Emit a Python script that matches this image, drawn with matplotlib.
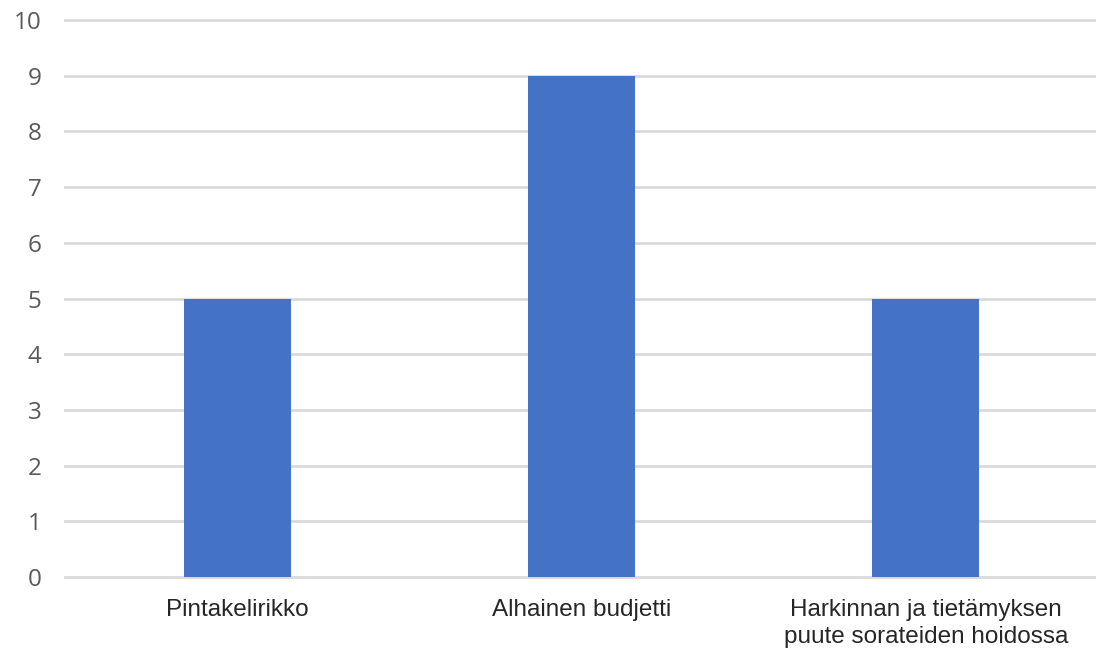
import matplotlib
matplotlib.use("Agg")
import matplotlib.pyplot as plt

categories = ["Pintakelirikko", "Alhainen budjetti", "Harkinnan ja tietämyksen\npuute sorateiden hoidossa"]
values = [5, 9, 5]
yticks = list(range(0, 11))

fig = plt.figure(figsize=(10.96, 6.5), dpi=100)
ax = fig.add_axes([65/1096, 1-577/650, (1098-65)/1096, (577-20)/650])

x = range(len(categories))
ax.bar(x, values, width=0.31, color="#4472C4", zorder=3)

ax.set_xlim(-0.5, len(categories)-0.5)
ax.set_ylim(0, 10)
ax.set_yticks(yticks)
ax.set_yticklabels([str(t) for t in yticks], fontfamily="Open Sans", fontsize=17.5, color="#595959")
ax.set_xticks(list(x))
ax.set_xticklabels(categories, fontfamily="Liberation Sans", fontsize=17.5, color="#262626", linespacing=1.3)
ax.grid(axis="y", color="#D9D9D9", linewidth=2, zorder=0)
for gl in ax.get_ygridlines():
    gl.set_clip_on(False)
for s in ax.spines.values():
    s.set_visible(False)
ax.tick_params(axis="both", length=0)
ax.tick_params(axis="y", pad=17)
ax.tick_params(axis="x", pad=16)

fig.savefig("out.png", dpi=100)
